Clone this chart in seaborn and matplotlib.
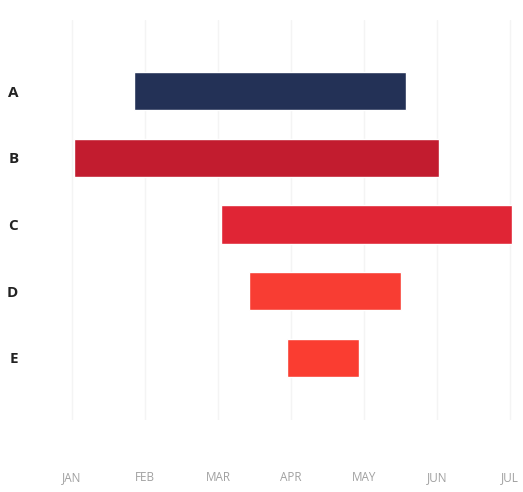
import matplotlib
matplotlib.use("Agg")
import matplotlib.pyplot as plt
import seaborn as sns

sns.set_theme(style="white")
plt.rcParams['font.family'] = ['Open Sans', 'DejaVu Sans']

# task data (month index: 0 = JAN)
tasks = ['A', 'B', 'C', 'D', 'E']
start = [0.85, 0.03, 2.04, 2.42, 2.95]
end = [4.58, 5.03, 6.03, 4.51, 3.93]
months = ['JAN', 'FEB', 'MAR', 'APR', 'MAY', 'JUN', 'JUL']
colors = ['#233156', '#c21c2f', '#e02535', '#f83d33', '#fa3d31']

duration = [e - s for s, e in zip(start, end)]

fig = plt.figure(figsize=(5.23, 4.92), dpi=100)
ax = fig.add_axes([60 / 523, 1 - 420 / 492, 463 / 523, 400 / 492])

sns.barplot(x=duration, y=tasks, hue=tasks, palette=colors, legend=False,
            width=0.57, saturation=1, orient='h', ax=ax)

# shift each bar to its start month
for patch, s in zip(ax.patches, start):
    patch.set_x(s)

ax.set_xlim(-12 / 73, (523 - 72) / 73)
ax.set_ylim(4 + 62 / 66.7, -71 / 66.7)
ax.set_xticks(range(len(months)))
ax.set_xticklabels(months, color='#a0a0a0', fontsize=8.5)
ax.tick_params(axis='x', length=0, pad=37)
ax.tick_params(axis='y', length=0, pad=30)
for lab in ax.get_yticklabels():
    lab.set_fontweight('bold')
    lab.set_fontsize(11)
    lab.set_color('#222222')
ax.grid(axis='x', color='#f4f4f4', linewidth=1)
ax.set_axisbelow(True)
sns.despine(ax=ax, left=True, bottom=True)
ax.set_xlabel('')
ax.set_ylabel('')

fig.savefig('out.png', dpi=100)
